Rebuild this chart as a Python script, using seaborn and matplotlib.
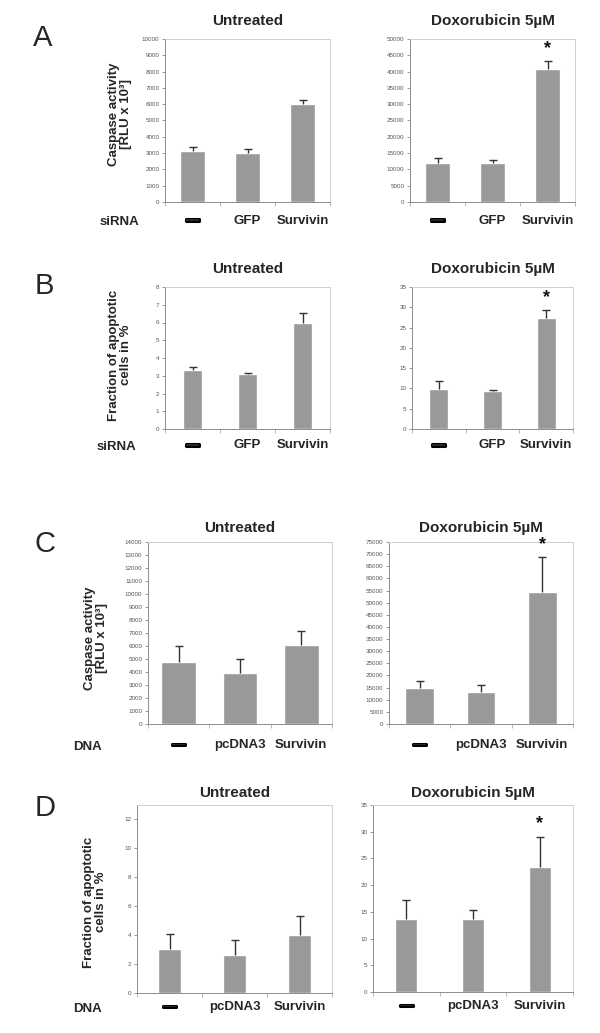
import numpy as np
import seaborn as sns
import matplotlib.pyplot as plt
import matplotlib.patheffects as pe
from matplotlib.ticker import MultipleLocator, FixedLocator

# Data
sirna_groups = ["—", "GFP", "Survivin"]
dna_groups = ["—", "pcDNA3", "Survivin"]

a_untreated = [3150, 3000, 6000]
a_untreated_err = [200, 250, 250]
a_dox = [11900, 11900, 40800]
a_dox_err = [1500, 1000, 2450]

b_untreated = [3.3, 3.1, 6.0]
b_untreated_err = [0.22, 0.07, 0.56]
b_dox = [9.9, 9.3, 27.3]
b_dox_err = [1.9, 0.2, 2.0]

c_untreated = [4800, 3900, 6050]
c_untreated_err = [1180, 1070, 1120]
c_dox = [14800, 13300, 54200]
c_dox_err = [3000, 2600, 14500]

d_untreated = [3.07, 2.62, 4.04]
d_untreated_err = [1.04, 1.07, 1.27]
d_dox = [13.7, 13.7, 23.4]
d_dox_err = [3.5, 1.7, 5.6]

significant = [False, False, True]  # star above Survivin under doxorubicin

sns.set_style("white")
plt.rcParams["font.family"] = ["Liberation Sans", "DejaVu Sans"]

W, H = 600, 1033
fig = plt.figure(figsize=(W / 100, H / 100), dpi=100)


def px_axes(x0, y0, x1, y1):
    return fig.add_axes([x0 / W, 1 - y1 / H, (x1 - x0) / W, (y1 - y0) / H])


def draw_panel(ax, groups, vals, errs, ymax, step, title, width, title_pad, label_pad, stars=None):
    sns.barplot(x=groups, y=vals, color="#999999", saturation=1, width=width, ax=ax, errorbar=None)
    pos = np.arange(len(vals))
    eb = ax.errorbar(pos, vals, yerr=[np.zeros(len(errs)), errs], fmt="none",
                     ecolor="#333333", elinewidth=1.0, capsize=3, capthick=1.0)
    eb[1][0].set_visible(False)  # only the upper cap
    if stars is not None:
        for p, v, e, s in zip(pos, vals, errs, stars):
            if s:
                ax.text(p, v + e + 0.025 * ymax, "*", ha="center", va="bottom",
                        fontsize=13, fontweight="bold", color="#111111")
    ax.set_ylim(0, ymax)
    ax.set_xlim(-0.5, len(vals) - 0.5)
    ax.yaxis.set_major_locator(MultipleLocator(step))
    ax.tick_params(axis="y", labelsize=4.5, labelcolor="#555555", length=2.5,
                   width=0.6, color="#888888", pad=1.5, left=True)
    ax.xaxis.set_minor_locator(FixedLocator(np.arange(-0.5, len(vals), 1.0)))
    ax.tick_params(axis="x", which="minor", length=3, width=0.6, color="#aaaaaa", bottom=True)
    ax.tick_params(axis="x", which="major", length=0, pad=label_pad)
    for lab in ax.get_xticklabels():
        lab.set_fontweight("bold")
        lab.set_fontsize(9.5)
        if lab.get_text() == "—":
            # thick dash as in the original
            lab.set_path_effects([pe.withStroke(linewidth=2.2, foreground="black")])
    ax.set_xlabel("")
    ax.set_ylabel("")
    for side in ["left", "bottom"]:
        ax.spines[side].set_color("#8c8c8c")
        ax.spines[side].set_linewidth(0.7)
    for side in ["top", "right"]:
        ax.spines[side].set_color("#cfcfcf")
        ax.spines[side].set_linewidth(0.7)
    ax.set_title(title, fontsize=11, fontweight="bold", pad=title_pad)


caspase_label = "Caspase activity\n[RLU x 10³]"
fraction_label = "Fraction of apoptotic\ncells in %"

# Row A
ax = px_axes(165, 39, 330, 202)
draw_panel(ax, sirna_groups, a_untreated, a_untreated_err, 10000, 1000, "Untreated", 0.47, 10, 9)
ax = px_axes(410, 39, 575, 202)
draw_panel(ax, sirna_groups, a_dox, a_dox_err, 50000, 5000, "Doxorubicin 5µM", 0.47, 10, 9, significant)

# Row B
ax = px_axes(165, 287, 330, 429)
draw_panel(ax, sirna_groups, b_untreated, b_untreated_err, 8, 1, "Untreated", 0.35, 10, 7.5)
ax = px_axes(412, 287, 573, 429)
draw_panel(ax, sirna_groups, b_dox, b_dox_err, 35, 5, "Doxorubicin 5µM", 0.35, 10, 7.5, significant)

# Row C
ax = px_axes(148, 542, 332, 724)
draw_panel(ax, dna_groups, c_untreated, c_untreated_err, 14000, 1000, "Untreated", 0.57, 7, 11)
ax = px_axes(389, 542, 573, 724)
draw_panel(ax, dna_groups, c_dox, c_dox_err, 75000, 5000, "Doxorubicin 5µM", 0.47, 7, 11, significant)

# Row D
ax = px_axes(137, 805, 332, 993)
draw_panel(ax, dna_groups, d_untreated, d_untreated_err, 13, 2, "Untreated", 0.34, 6, 6)
ax = px_axes(373, 805, 573, 992)
draw_panel(ax, dna_groups, d_dox, d_dox_err, 35, 5, "Doxorubicin 5µM", 0.33, 6, 6, significant)

# Panel letters, row labels and y labels
for letter, (x, y) in zip("ABCD", [(33, 38), (35, 286), (35, 544), (35, 808)]):
    fig.text(x / W, 1 - y / H, letter, fontsize=21, va="center", ha="left")

for text, (x, y) in zip(["siRNA", "siRNA", "DNA", "DNA"], [(100, 222), (97, 447), (73, 747), (73, 1009)]):
    fig.text(x / W, 1 - y / H, text, fontsize=9.5, fontweight="bold", va="center", ha="left")

for text, (x, y) in zip([caspase_label, fraction_label, caspase_label, fraction_label],
                        [(120, 114), (120, 355), (96, 638), (95, 902)]):
    fig.text(x / W, 1 - y / H, text, fontsize=9.5, fontweight="bold", rotation=90,
             va="center", ha="center", linespacing=1.0, multialignment="center")

fig.savefig("out.png", dpi=100)
